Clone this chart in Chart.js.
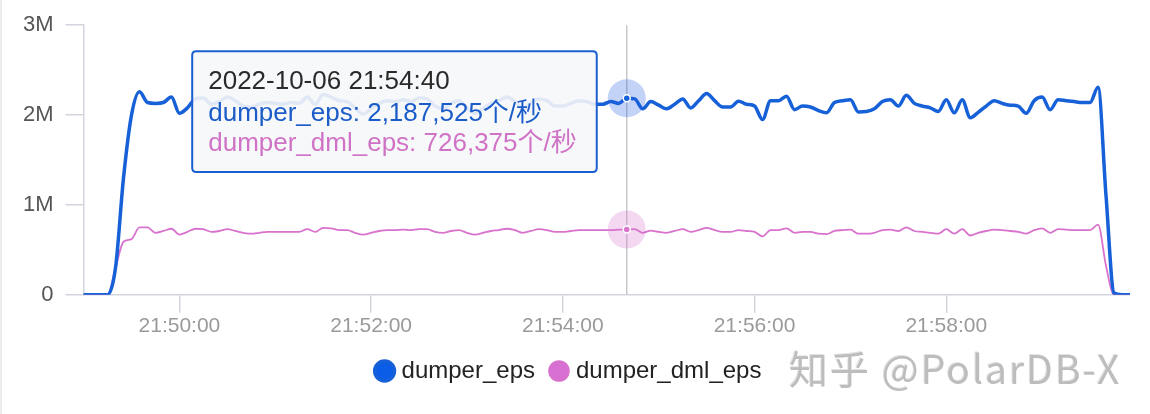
<!DOCTYPE html>
<html>
<head>
<meta charset="utf-8">
<script src="https://cdn.jsdelivr.net/npm/chart.js@4.4.0/dist/chart.umd.min.js"></script>
<style>
  html, body { margin: 0; padding: 0; background: #fff; }
  #wrap { position: relative; width: 1150px; height: 414px; overflow: hidden; }
  #edge { position: absolute; left: 0; top: 0; width: 2px; height: 414px; background: #ececec; }
  #mark {
    position: absolute; left: 789px; top: 348px;
    font-family: 'Noto Sans CJK SC', 'Liberation Sans', sans-serif;
    font-size: 39px; line-height: 1; color: #bdbdbd; letter-spacing: 2px;
    text-shadow: 1px 1px 0 #fff, -1px -1px 0 #e2e2e2;
  }
</style>
</head>
<body>
<div id="wrap">
  <canvas id="chart" width="1150" height="414"></canvas>
  <div id="edge"></div>
  <div id="mark">知乎 @PolarDB-X</div>
</div>
<script>
// data, one sample every 5 seconds
const dayLabel = '2022-10-06';
const startTime = '21:49:00';
const stepSeconds = 5;
const tickLabels = ['21:50:00', '21:52:00', '21:54:00', '21:56:00', '21:58:00'];
const seriesNames = ['dumper_eps', 'dumper_dml_eps'];
const hoverIndex = 68; // 21:54:40

const dumperEps = [
  0, 0, 0, 0, 300000, 1300000, 2000000, 2260000, 2140000, 2130000, 2140000, 2200000,
  2020000, 2080000, 2180000, 2190000, 2120000, 2150000, 2200000, 2160000, 2100000, 2090000, 2120000, 2140000,
  2130000, 2120000, 2140000, 2130000, 2200000, 2120000, 2230000, 2200000, 2160000, 2150000, 2080000, 2010000,
  2070000, 2130000, 2160000, 2150000, 2170000, 2150000, 2190000, 2180000, 2100000, 2070000, 2130000, 2160000,
  2080000, 2020000, 2070000, 2130000, 2160000, 2200000, 2150000, 2070000, 2130000, 2180000, 2160000, 2100000,
  2100000, 2130000, 2160000, 2150000, 2120000, 2120000, 2150000, 2130000, 2187525, 2180000, 2070000, 2150000,
  2110000, 2070000, 2120000, 2180000, 2080000, 2160000, 2240000, 2160000, 2090000, 2090000, 2155000, 2120000,
  2100000, 1950000, 2160000, 2160000, 2210000, 2060000, 2100000, 2090000, 2050000, 2025000, 2140000, 2160000,
  2170000, 2035000, 2040000, 2070000, 2150000, 2170000, 2100000, 2220000, 2130000, 2100000, 2080000, 2040000,
  2170000, 2025000, 2170000, 1970000, 2030000, 2100000, 2160000, 2130000, 2110000, 2100000, 2020000, 2160000,
  2200000, 2060000, 2170000, 2160000, 2150000, 2140000, 2140000, 2310000, 1100000, 20000, 0, 0
];

const dumperDmlEps = [
  0, 0, 0, 0, 300000, 590000, 620000, 750000, 750000, 690000, 710000, 735000,
  670000, 700000, 735000, 730000, 700000, 710000, 730000, 710000, 690000, 680000, 690000, 700000,
  700000, 700000, 700000, 700000, 730000, 700000, 745000, 740000, 720000, 720000, 690000, 670000,
  690000, 710000, 720000, 720000, 725000, 720000, 730000, 730000, 700000, 690000, 710000, 720000,
  690000, 670000, 690000, 710000, 720000, 735000, 720000, 690000, 710000, 730000, 720000, 700000,
  700000, 710000, 720000, 720000, 720000, 720000, 720000, 725000, 726375, 730000, 690000, 715000,
  700000, 690000, 710000, 730000, 700000, 720000, 745000, 720000, 700000, 700000, 720000, 710000,
  700000, 650000, 720000, 720000, 740000, 690000, 700000, 700000, 680000, 675000, 710000, 720000,
  725000, 680000, 680000, 690000, 720000, 725000, 710000, 750000, 710000, 700000, 690000, 680000,
  730000, 680000, 730000, 660000, 690000, 710000, 725000, 720000, 710000, 700000, 680000, 720000,
  740000, 690000, 730000, 725000, 720000, 720000, 720000, 780000, 320000, 0, 0, 0
];

const lineColors = ['#1660d8', '#d872cd'];
const dotColors = ['#0b5de8', '#d86fd2'];
const haloColors = ['rgba(40, 95, 225, 0.28)', 'rgba(216, 112, 205, 0.28)'];
const textColors = ['#1b5cc9', '#d073c6'];
const axisColor = '#d3d5de';
const fontFamily = "'Liberation Sans', 'Noto Sans CJK SC', sans-serif";

// time labels for the x axis
function toSec(t) {
  const [h, m, s] = t.split(':').map(Number);
  return h * 3600 + m * 60 + s;
}
function fmtSec(n) {
  const p = v => String(v).padStart(2, '0');
  return p(Math.floor(n / 3600)) + ':' + p(Math.floor(n / 60) % 60) + ':' + p(n % 60);
}
const times = dumperEps.map((_, i) => fmtSec(toSec(startTime) + i * stepSeconds));

const nf = new Intl.NumberFormat('en-US');

// tooltip sits to the left of the hovered point
Chart.Tooltip.positioners.leftOfPoint = function(items) {
  if (!items.length) return false;
  const el = items[0].element;
  return { x: el.x - 34, y: this.chart.chartArea.top + 26 };
};

// crosshair + halo on the hovered points
const hoverMarks = {
  id: 'hoverMarks',
  beforeDatasetsDraw(chart) {
    const el = chart.getDatasetMeta(0).data[hoverIndex];
    const { top, bottom } = chart.chartArea;
    const ctx = chart.ctx;
    ctx.save();
    ctx.strokeStyle = '#c8c8cc';
    ctx.lineWidth = 1.5;
    ctx.beginPath();
    ctx.moveTo(el.x, top);
    ctx.lineTo(el.x, bottom);
    ctx.stroke();
    ctx.restore();
  },
  afterDatasetsDraw(chart) {
    const ctx = chart.ctx;
    chart.data.datasets.forEach((ds, i) => {
      const el = chart.getDatasetMeta(i).data[hoverIndex];
      ctx.save();
      ctx.fillStyle = haloColors[i];
      ctx.beginPath();
      ctx.arc(el.x, el.y, 19, 0, Math.PI * 2);
      ctx.fill();
      ctx.fillStyle = lineColors[i];
      ctx.strokeStyle = '#fff';
      ctx.lineWidth = 1.5;
      ctx.beginPath();
      ctx.arc(el.x, el.y, 3.5, 0, Math.PI * 2);
      ctx.fill();
      ctx.stroke();
      ctx.restore();
    });
  }
};

const ctx = document.getElementById('chart').getContext('2d');
const chart = new Chart(ctx, {
  type: 'line',
  data: {
    labels: times,
    datasets: [
      {
        label: seriesNames[0],
        data: dumperEps,
        borderColor: lineColors[0],
        backgroundColor: dotColors[0],
        borderWidth: 3.5,
        pointRadius: 0,
        pointHoverRadius: 0,
        cubicInterpolationMode: 'monotone'
      },
      {
        label: seriesNames[1],
        data: dumperDmlEps,
        borderColor: lineColors[1],
        backgroundColor: dotColors[1],
        borderWidth: 1.8,
        pointRadius: 0,
        pointHoverRadius: 0,
        cubicInterpolationMode: 'monotone'
      }
    ]
  },
  options: {
    responsive: false,
    animation: false,
    events: [],
    layout: { padding: { left: 11, right: 20, top: 21, bottom: 21 } },
    interaction: { mode: 'index', intersect: false },
    scales: {
      x: {
        type: 'category',
        offset: false,
        afterBuildTicks: scale => {
          scale.ticks = scale.ticks.filter(t => tickLabels.includes(times[t.value]));
        },
        grid: { drawOnChartArea: false, tickLength: 18, color: axisColor, lineWidth: 1.5 },
        border: { color: axisColor, width: 1.5 },
        ticks: {
          autoSkip: false, maxRotation: 0, padding: 1,
          color: '#9a9a9a', font: { size: 21, family: fontFamily }
        }
      },
      y: {
        min: 0,
        max: 3000000,
        grid: { drawOnChartArea: false, tickLength: 18, color: axisColor, lineWidth: 1.5 },
        border: { color: axisColor, width: 1.5 },
        ticks: {
          stepSize: 1000000, padding: 12,
          color: '#555', font: { size: 22, family: fontFamily },
          callback: v => v === 0 ? '0' : (v / 1000000) + 'M'
        }
      }
    },
    plugins: {
      legend: {
        position: 'bottom',
        labels: {
          usePointStyle: true, pointStyle: 'circle',
          boxHeight: 14, boxWidth: 10,
          padding: 19, color: '#222',
          font: { size: 24, family: fontFamily }
        }
      },
      tooltip: {
        enabled: true,
        position: 'leftOfPoint',
        xAlign: 'right', yAlign: 'top',
        caretSize: 0, caretPadding: 0, cornerRadius: 4,
        backgroundColor: 'rgba(246, 247, 250, 0.9)',
        borderColor: '#1c5fd0', borderWidth: 2,
        padding: { left: 16, right: 20, top: 16, bottom: 13 },
        titleColor: '#2a2a2a',
        titleFont: { size: 26, weight: 'normal', family: fontFamily, lineHeight: 1.15 },
        bodyFont: { size: 26, family: fontFamily, lineHeight: 1.15 },
        titleMarginBottom: 2, bodySpacing: 0,
        displayColors: false,
        callbacks: {
          title: items => dayLabel + ' ' + items[0].label,
          label: item => item.dataset.label + ': ' + nf.format(item.parsed.y) + '个/秒',
          labelTextColor: item => textColors[item.datasetIndex]
        }
      }
    }
  },
  plugins: [hoverMarks]
});

// show the hovered state at 21:54:40
const active = [{ datasetIndex: 0, index: hoverIndex }, { datasetIndex: 1, index: hoverIndex }];
chart.setActiveElements(active);
chart.tooltip.setActiveElements(active, { x: 0, y: 0 });
chart.update();
</script>
</body>
</html>
